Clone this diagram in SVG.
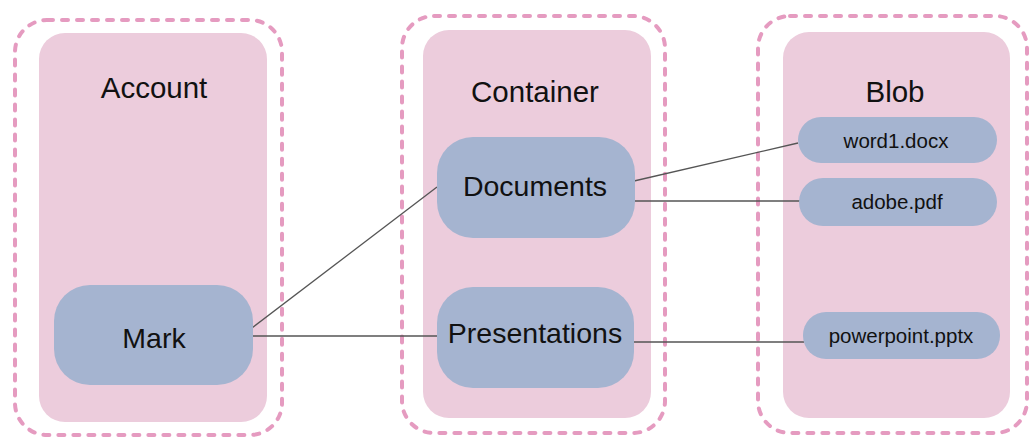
<svg xmlns="http://www.w3.org/2000/svg" width="1034" height="441" viewBox="0 0 1034 441">
<style>
.outer{fill:none;stroke:#e59bc0;stroke-width:4;stroke-dasharray:6 9;stroke-linecap:round}
.panel{fill:#ecccdc}
.node{fill:#a5b4d0}
.t{font-family:"Liberation Sans",Arial,sans-serif;fill:#111;text-anchor:middle}
.head{font-size:29.5px}
.big{font-size:28.5px}
.small{font-size:20.5px}
.c{stroke:#555;stroke-width:1.3;fill:none}
</style>
<rect width="1034" height="441" fill="#ffffff"/>
<g id="account">
<rect class="outer" x="15" y="20" width="267" height="415" rx="32"/>
<rect class="panel" x="39" y="33" width="228" height="389" rx="26"/>
<text class="t head" x="154" y="98">Account</text>
</g>
<g id="container">
<rect class="outer" x="402" y="16" width="263" height="417" rx="32"/>
<rect class="panel" x="423" y="30" width="228" height="388" rx="26"/>
<text class="t head" x="535" y="102">Container</text>
</g>
<g id="blob">
<rect class="outer" x="758" y="16" width="269" height="417" rx="32"/>
<rect class="panel" x="783" y="32" width="227" height="386" rx="26"/>
<text class="t head" x="895" y="102">Blob</text>
</g>
<g id="connectors">
<line class="c" x1="248" y1="331" x2="437" y2="187"/>
<line class="c" x1="249" y1="336" x2="440" y2="336"/>
<line class="c" x1="634" y1="181" x2="798" y2="143"/>
<line class="c" x1="632" y1="201" x2="800" y2="201"/>
<line class="c" x1="634" y1="342" x2="804" y2="342"/>
</g>
<g id="mark">
<rect class="node" x="54" y="285" width="199" height="100" rx="36"/>
<text class="t big" x="154" y="348">Mark</text>
</g>
<g id="documents">
<rect class="node" x="437" y="137" width="198" height="101" rx="36"/>
<text class="t big" x="535" y="196">Documents</text>
</g>
<g id="presentations">
<rect class="node" x="437" y="287" width="197" height="101" rx="36"/>
<text class="t big" x="535" y="343">Presentations</text>
</g>
<g id="word1">
<rect class="node" x="798" y="117" width="199" height="46" rx="23"/>
<text class="t small" x="896" y="148">word1.docx</text>
</g>
<g id="adobe">
<rect class="node" x="799" y="178" width="198" height="48" rx="24"/>
<text class="t small" x="897" y="209">adobe.pdf</text>
</g>
<g id="powerpoint">
<rect class="node" x="803" y="312" width="197" height="47" rx="23"/>
<text class="t small" x="901" y="343">powerpoint.pptx</text>
</g>
</svg>
